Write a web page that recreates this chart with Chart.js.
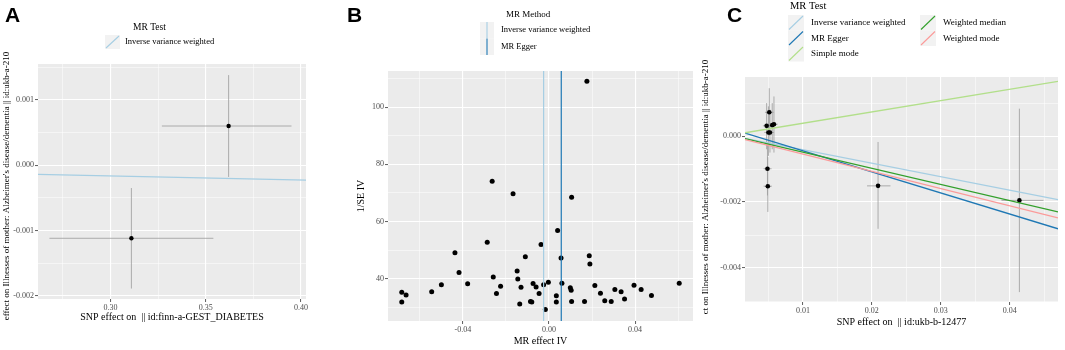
<!DOCTYPE html>
<html lang="en">
<head>
<meta charset="UTF-8">
<title>MR scatter and funnel plots</title>
<script src="https://cdn.jsdelivr.net/npm/chart.js"></script>
<style>
  body { margin: 0; background: #fff; }
  #wrap { position: relative; width: 1065px; height: 350px; overflow: hidden; }
  canvas { position: absolute; top: 0; }
</style>
</head>
<body>
<div id="wrap">
  <canvas id="chartA" width="340" height="350" style="left:0px"></canvas>
  <canvas id="chartB" width="360" height="350" style="left:340px"></canvas>
  <canvas id="chartC" width="379" height="350" style="left:686px"></canvas>
</div>
<script>
// ---- panel A: GEST_DIABETES -> maternal Alzheimer's (2 SNPs)
const aSnpBeta   = [0.311, 0.362];
const aSnpLo     = [0.268, 0.327];
const aSnpHi     = [0.354, 0.395];
const aOutBeta   = [-0.00112, 0.00060];
const aOutLo     = [-0.00189, -0.00018];
const aOutHi     = [-0.00035, 0.00138];
const aMethods   = ['Inverse variance weighted'];
const aLineLeft  = [-0.00014];   // fitted value at left edge of x range
const aLineRight = [-0.00023];   // fitted value at right edge
const aXTicks = [0.30, 0.35, 0.40];
const aXLabels = ['0.30', '0.35', '0.40'];
const aYTicks = [-0.002, -0.001, 0.000, 0.001];
const aYLabels = ['-0.002', '-0.001', '0.000', '0.001'];

// ---- panel B: funnel plot
const bEffect = [0.0176, -0.0264, -0.0167, 0.0105, 0.0040, -0.0287, -0.0037, -0.0437, -0.0110, 0.0056,
                 0.0187, 0.0190, -0.0418, -0.0148, -0.0259, -0.0145, -0.0684, -0.0664, -0.0684, -0.0545,
                 -0.0500, -0.0378, -0.0244, -0.0225, -0.0130, -0.0136, -0.0086, -0.0080, -0.0074, -0.0060,
                 -0.0046, -0.0025, -0.0017, -0.0003, 0.0034, 0.0034, 0.0060, 0.0099, 0.0103, 0.0105,
                 0.0165, 0.0213, 0.0239, 0.0259, 0.0289, 0.0306, 0.0335, 0.0351, 0.0395, 0.0428,
                 0.0476, 0.0605];
const bInvSe  = [109.0, 74.1, 69.7, 68.5, 56.9, 52.8, 52.0, 49.1, 47.7, 47.3,
                 48.1, 45.2, 42.2, 42.8, 40.7, 40.0, 35.3, 34.4, 31.9, 35.5,
                 38.0, 38.3, 34.9, 37.4, 37.1, 31.2, 32.1, 31.9, 38.4, 37.2,
                 34.9, 38.0, 29.3, 38.8, 34.1, 31.9, 38.5, 36.9, 36.0, 32.1,
                 32.1, 37.7, 35.0, 32.4, 32.1, 36.3, 35.5, 33.0, 37.8, 36.3,
                 34.2, 38.5];
const bMethods = ['Inverse variance weighted', 'MR Egger'];
const bMethodEst = [-0.0025, 0.0057];
const bXTicks = [-0.04, 0.00, 0.04];
const bXLabels = ['-0.04', '0.00', '0.04'];
const bYTicks = [40, 60, 80, 100];
const bYLabels = ['40', '60', '80', '100'];

// ---- panel C: ukb-b-12477 -> maternal Alzheimer's
const cSnpBeta = [0.00512, 0.00474, 0.00555, 0.00580, 0.00500, 0.00522, 0.00486, 0.00491, 0.0209, 0.0414];
const cSnpLo   = [0.00450, 0.00420, 0.00500, 0.00525, 0.00440, 0.00465, 0.00430, 0.00430, 0.0193, 0.0388];
const cSnpHi   = [0.00575, 0.00530, 0.00610, 0.00635, 0.00560, 0.00580, 0.00545, 0.00550, 0.0227, 0.0449];
const cOutBeta = [0.00072, 0.00031, 0.00033, 0.00036, 0.00011, 0.00011, -0.00099, -0.00152, -0.00151, -0.00195];
const cOutLo   = [0.00000, -0.00040, -0.00040, -0.00050, -0.00060, -0.00050, -0.00180, -0.00230, -0.00281, -0.00473];
const cOutHi   = [0.00145, 0.00100, 0.00100, 0.00120, 0.00090, 0.00080, -0.00020, -0.00064, -0.00018, 0.00083];
const cMethods   = ['Inverse variance weighted', 'MR Egger', 'Simple mode', 'Weighted median', 'Weighted mode'];
const cLineLeft  = [-0.00007, 0.00009, 0.00010, -0.00008, -0.00011];
const cLineRight = [-0.00193, -0.00281, 0.00166, -0.00230, -0.00248];
const cXTicks = [0.01, 0.02, 0.03, 0.04];
const cXLabels = ['0.01', '0.02', '0.03', '0.04'];
const cYTicks = [-0.004, -0.002, 0.000];
const cYLabels = ['-0.004', '-0.002', '0.000'];

const yTitleAD = "Illnesses of mother: Alzheimer's disease/dementia || id:ukb-a-210";

const SERIF = "'Liberation Serif', 'DejaVu Serif', serif";
const SANS = "'Liberation Sans', Arial, sans-serif";
const PANEL_BG = '#EBEBEB';
const KEY_BG = '#F2F2F2';
const BAR_COLOR = '#9A9A9A';
const methodColor = {
  'Inverse variance weighted': '#A6CEE3',
  'MR Egger': '#1F78B4',
  'Simple mode': '#B2DF8A',
  'Weighted median': '#33A02C',
  'Weighted mode': '#FB9A99'
};

const near = (a, b) => Math.abs(a - b) < 1e-9;

// ggplot-ish axis: white major + thin minor grid lines, ticks only on majors
function gridAxis(min, max, majors, labels, minors, extra) {
  const all = majors.concat(minors).filter(v => v >= min && v <= max).sort((a, b) => a - b);
  const isMajor = v => majors.some(m => near(m, v));
  return Object.assign({
    type: 'linear', min: min, max: max,
    afterBuildTicks: s => { s.ticks = all.map(v => ({ value: v })); },
    ticks: {
      autoSkip: false, maxRotation: 0, minRotation: 0, padding: 1,
      color: '#4D4D4D', font: { family: SERIF, size: 8 },
      callback: v => { const i = majors.findIndex(m => near(m, v)); return i < 0 ? '' : labels[i]; }
    },
    grid: {
      color: '#FFFFFF',
      lineWidth: c => (c.tick && isMajor(c.tick.value)) ? 1.1 : 0.5,
      tickColor: c => (c.tick && isMajor(c.tick.value)) ? '#333333' : 'rgba(0,0,0,0)',
      tickWidth: 0.8, tickLength: 3
    },
    border: { display: false }
  }, extra);
}

function xTitle(text) {
  return { display: true, text: text, color: '#000', font: { family: SERIF, size: 10 }, padding: 0 };
}

function hBars(ys, lo, hi) {
  const out = [];
  ys.forEach((y, i) => out.push({ x: lo[i], y: y }, { x: hi[i], y: y }, { x: hi[i], y: null }));
  return out;
}
function vBars(xs, lo, hi) {
  const out = [];
  xs.forEach((x, i) => out.push({ x: x, y: lo[i] }, { x: x, y: hi[i] }, { x: x, y: null }));
  return out;
}
function lineDs(label, pts, color, width) {
  return { label: label, data: pts, showLine: true, borderColor: color, borderWidth: width,
           pointRadius: 0, fill: false, spanGaps: false };
}
function pointDs(xs, ys, r) {
  return { label: 'SNP', data: xs.map((x, i) => ({ x: x, y: ys[i] })), showLine: false,
           pointRadius: r, pointBackgroundColor: '#000', borderColor: '#000', pointBorderWidth: 0 };
}

// panel background, letter, long y title and ggplot style legend
const decor = {
  id: 'decor',
  beforeDraw(chart) {
    const { ctx, chartArea: a } = chart;
    ctx.save();
    ctx.fillStyle = PANEL_BG;
    ctx.fillRect(a.left, a.top, a.right - a.left, a.bottom - a.top);
    ctx.restore();
  },
  afterDraw(chart, args, o) {
    const ctx = chart.ctx;
    ctx.save();
    ctx.fillStyle = '#000';
    ctx.textAlign = 'left';
    ctx.textBaseline = 'alphabetic';
    ctx.font = 'bold 21px ' + SANS;
    ctx.fillText(o.letter.text, o.letter.x, o.letter.y);

    if (o.yTitle) {
      ctx.save();
      ctx.translate(o.yTitle.x, o.yTitle.cy);
      ctx.rotate(-Math.PI / 2);
      ctx.font = '9px ' + SERIF;
      ctx.textAlign = 'center';
      ctx.textBaseline = 'middle';
      ctx.fillText(o.yTitle.text, 0, 0);
      ctx.restore();
    }

    const L = o.legend;
    ctx.textBaseline = 'middle';
    ctx.font = L.titleSize + 'px ' + SERIF;
    ctx.fillText(L.title, L.titleX, L.titleY);
    ctx.font = L.textSize + 'px ' + SERIF;
    L.items.forEach((label, i) => {
      const col = Math.floor(i / L.rows), row = i % L.rows;
      const kx = L.x + col * L.colGap, ky = L.y + row * L.rowH;
      ctx.fillStyle = KEY_BG;
      ctx.fillRect(kx, ky, L.keyW, L.rowH);
      ctx.strokeStyle = methodColor[label];
      ctx.lineWidth = 1.1;
      ctx.beginPath();
      if (L.glyph === 'vline') {
        ctx.moveTo(kx + L.keyW / 2, ky);
        ctx.lineTo(kx + L.keyW / 2, ky + L.rowH);
      } else {
        ctx.moveTo(kx + 1, ky + L.rowH - 1);
        ctx.lineTo(kx + L.keyW - 1, ky + 1);
      }
      ctx.stroke();
      ctx.fillStyle = '#000';
      ctx.fillText(label, kx + L.keyW + L.textGap, ky + L.rowH / 2);
    });
    ctx.restore();
  }
};

function baseOptions(padding, x, y, decorOpts) {
  return {
    responsive: false, animation: false, events: [], devicePixelRatio: 1,
    layout: { padding: padding },
    plugins: { legend: { display: false }, tooltip: { enabled: false }, decor: decorOpts },
    scales: { x: x, y: y }
  };
}

// ---------- A ----------
const aX = [0.262, 0.4026], aY = [-0.00205, 0.00155];
new Chart(document.getElementById('chartA'), {
  type: 'scatter',
  data: {
    datasets: aMethods.map((m, i) => lineDs(m, [{ x: aX[0], y: aLineLeft[i] }, { x: aX[1], y: aLineRight[i] }], methodColor[m], 1.3))
      .concat([
        pointDs(aSnpBeta, aOutBeta, 2.2),
        lineDs('se x', hBars(aOutBeta, aSnpLo, aSnpHi), BAR_COLOR, 0.8),
        lineDs('se y', vBars(aSnpBeta, aOutLo, aOutHi), BAR_COLOR, 0.8)
      ])
  },
  options: baseOptions(
    { left: 8, top: 64, right: 34, bottom: 27 },
    gridAxis(aX[0], aX[1], aXTicks, aXLabels, [0.275, 0.325, 0.375],
      { title: xTitle('SNP effect on  || id:finn-a-GEST_DIABETES'), afterFit: s => { s.height = 24; } }),
    gridAxis(aY[0], aY[1], aYTicks, aYLabels, [-0.0015, -0.0005, 0.0005, 0.0015],
      { afterFit: s => { s.width = 30; } }),
    {
      letter: { text: 'A', x: 5, y: 22 },
      yTitle: { text: 'effect on ' + yTitleAD, x: 7, cy: 186 },
      legend: { title: 'MR Test', titleX: 133, titleY: 27, titleSize: 9.5, textSize: 8.5,
                items: aMethods, glyph: 'abline', x: 105, y: 35, keyW: 15, rowH: 14, rows: 1, colGap: 0, textGap: 5 }
    })
  ,
  plugins: [decor]
});

// ---------- B ----------
const bX = [-0.0748, 0.0669], bY = [25.3, 112.6];
new Chart(document.getElementById('chartB'), {
  type: 'scatter',
  data: {
    datasets: bMethods.map((m, i) => lineDs(m, [{ x: bMethodEst[i], y: bY[0] }, { x: bMethodEst[i], y: bY[1] }], methodColor[m], 1.2))
      .concat([pointDs(bEffect, bInvSe, 2.5)])
  },
  options: baseOptions(
    { left: 15, top: 71, right: 7, bottom: 3 },
    gridAxis(bX[0], bX[1], bXTicks, bXLabels, [-0.06, -0.02, 0.02, 0.06],
      { title: xTitle('MR effect IV'), afterFit: s => { s.height = 26; } }),
    gridAxis(bY[0], bY[1], bYTicks, bYLabels, [30, 50, 70, 90, 110],
      { title: xTitle('1/SE IV'), afterFit: s => { s.width = 33; } }),
    {
      letter: { text: 'B', x: 7, y: 22 },
      legend: { title: 'MR Method', titleX: 166, titleY: 15, titleSize: 9, textSize: 8.5,
                items: bMethods, glyph: 'vline', x: 140, y: 22, keyW: 14, rowH: 16.5, rows: 2, colGap: 0, textGap: 7 }
    }),
  plugins: [decor]
});

// ---------- C ----------
const cX = [0.0016, 0.047], cY = [-0.00503, 0.00179];
new Chart(document.getElementById('chartC'), {
  type: 'scatter',
  data: {
    datasets: cMethods.map((m, i) => lineDs(m, [{ x: cX[0], y: cLineLeft[i] }, { x: cX[1], y: cLineRight[i] }], methodColor[m], 1.3))
      .reverse()
      .concat([
        pointDs(cSnpBeta, cOutBeta, 2.3),
        lineDs('se x', hBars(cOutBeta, cSnpLo, cSnpHi), BAR_COLOR, 0.8),
        lineDs('se y', vBars(cSnpBeta, cOutLo, cOutHi), BAR_COLOR, 0.8)
      ])
  },
  options: baseOptions(
    { left: 29, top: 77, right: 7, bottom: 22 },
    gridAxis(cX[0], cX[1], cXTicks, cXLabels, [0.005, 0.015, 0.025, 0.035, 0.045],
      { title: xTitle('SNP effect on  || id:ukb-b-12477'), afterFit: s => { s.height = 26; } }),
    gridAxis(cY[0], cY[1], cYTicks, cYLabels, [-0.005, -0.003, -0.001, 0.001],
      { afterFit: s => { s.width = 30; } }),
    {
      letter: { text: 'C', x: 41, y: 22 },
      yTitle: { text: 'ct on ' + yTitleAD, x: 20, cy: 187 },
      legend: { title: 'MR Test', titleX: 104, titleY: 6, titleSize: 10.5, textSize: 9,
                items: cMethods, glyph: 'abline', x: 102, y: 15, keyW: 16, rowH: 15.5, rows: 3, colGap: 132, textGap: 7 }
    }),
  plugins: [decor]
});
</script>
</body>
</html>
